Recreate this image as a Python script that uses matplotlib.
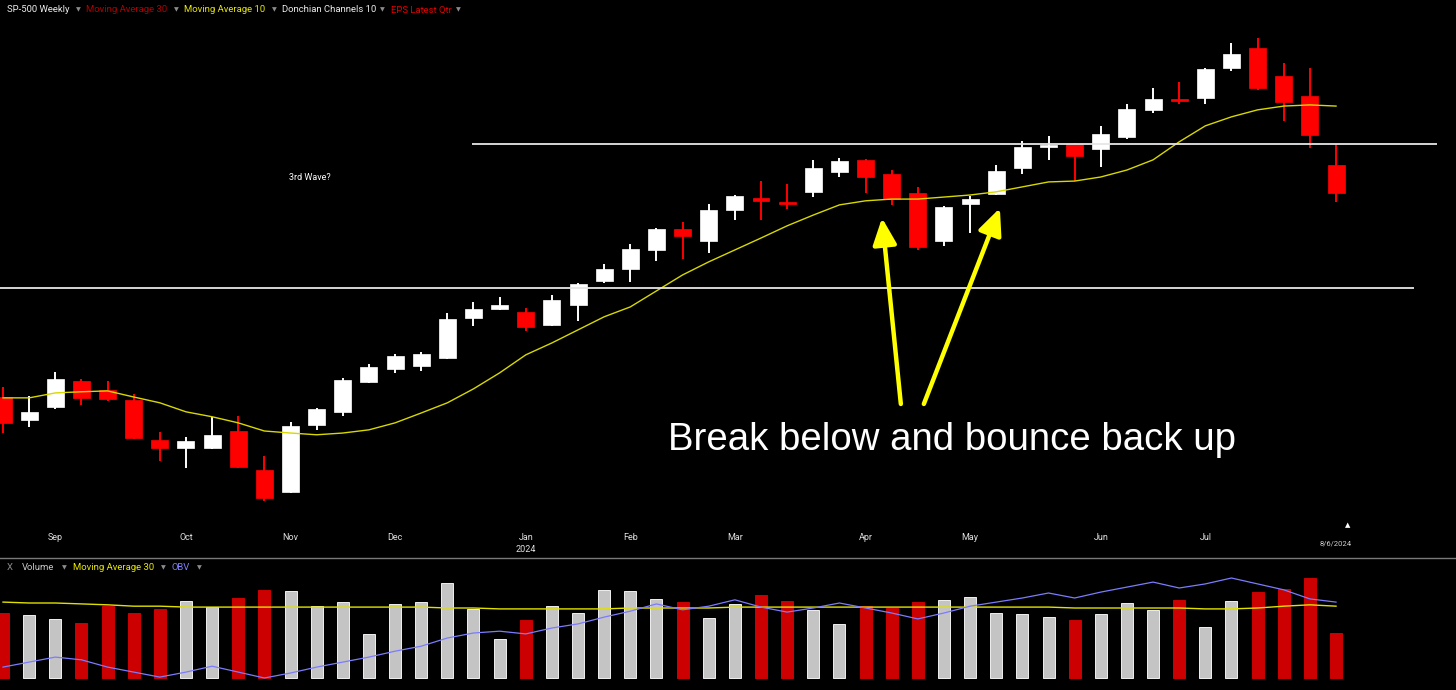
import numpy as np
import pandas as pd
import matplotlib
matplotlib.use('Agg')
import matplotlib.pyplot as plt
from matplotlib.lines import Line2D

# ---------------------------------------------------------------------------
# Weekly SP-500 data
# ---------------------------------------------------------------------------
opens = [4444, 4365, 4410, 4499, 4468, 4434, 4296, 4269, 4269, 4327,
         4193, 4118, 4348, 4393, 4496, 4541, 4551, 4578, 4716, 4747,
         4737, 4692, 4761, 4843, 4885, 4950, 5022, 4981, 5088, 5129,
         5115, 5150, 5218, 5260, 5211, 5146, 4981, 5108, 5143, 5232,
         5304, 5315, 5297, 5339, 5432, 5466, 5473, 5576, 5645, 5549,
         5480, 5242]
highs = [4479, 4448, 4530, 4506, 4499, 4455, 4324, 4307, 4376, 4379,
         4241, 4358, 4406, 4510, 4558, 4592, 4599, 4733, 4771, 4788,
         4750, 4795, 4836, 4902, 4971, 5026, 5046, 5108, 5139, 5187,
         5177, 5260, 5267, 5263, 5225, 5167, 5101, 5136, 5242, 5325,
         5342, 5318, 5377, 5452, 5507, 5528, 5576, 5662, 5679, 5593,
         5576, 5315]
lows = [4320, 4341, 4403, 4417, 4431, 4300, 4224, 4200, 4265, 4200,
        4087, 4114, 4331, 4379, 4492, 4527, 4534, 4575, 4689, 4744,
        4671, 4689, 4706, 4836, 4840, 4912, 4919, 4940, 5053, 5053,
        5091, 5132, 5201, 5146, 5105, 4950, 4964, 5008, 5139, 5211,
        5260, 5187, 5236, 5332, 5421, 5452, 5452, 5566, 5500, 5394,
        5301, 5115]
closes = [4355, 4393, 4506, 4441, 4437, 4303, 4269, 4293, 4314, 4204,
          4097, 4345, 4403, 4503, 4548, 4585, 4592, 4713, 4747, 4761,
          4685, 4778, 4833, 4885, 4953, 5022, 4998, 5088, 5136, 5119,
          5108, 5232, 5256, 5201, 5125, 4960, 5098, 5125, 5222, 5304,
          5308, 5273, 5349, 5435, 5469, 5463, 5573, 5624, 5507, 5459,
          5346, 5146]
ma10 = [4441, 4441, 4458, 4462, 4465, 4444, 4424, 4393, 4376, 4355,
        4327, 4320, 4314, 4320, 4331, 4355, 4389, 4424, 4472, 4527,
        4589, 4630, 4675, 4720, 4754, 4809, 4864, 4909, 4950, 4991,
        5033, 5070, 5105, 5119, 5125, 5125, 5132, 5139, 5150, 5167,
        5184, 5187, 5201, 5225, 5260, 5322, 5377, 5408, 5432, 5445,
        5449, 5445]

# volume panel (billions, OBV in same rough units)
volume = [14.3, 13.9, 13.0, 12.1, 15.8, 14.3, 15.2, 16.9, 15.6, 17.6,
          19.4, 19.1, 15.8, 16.7, 9.7, 16.3, 16.7, 20.9, 15.2, 8.6,
          12.8, 15.8, 14.3, 19.4, 19.1, 17.4, 16.7, 13.2, 16.3, 18.3,
          16.9, 15.0, 11.9, 15.8, 15.4, 16.7, 17.2, 17.8, 14.3, 14.1,
          13.4, 12.8, 14.1, 16.5, 15.0, 17.2, 11.2, 16.9, 18.9, 19.6,
          22.0, 9.9]
vol_ma30 = [16.7, 16.5, 16.5, 16.3, 16.1, 15.8, 15.8, 15.6, 15.6, 15.6,
            15.6, 15.6, 15.6, 15.6, 15.6, 15.6, 15.6, 15.4, 15.4, 15.2,
            15.2, 15.2, 15.2, 15.2, 15.4, 15.4, 15.4, 15.4, 15.6, 15.6,
            15.6, 15.6, 15.6, 15.6, 15.6, 15.6, 15.6, 15.6, 15.6, 15.6,
            15.6, 15.4, 15.4, 15.4, 15.4, 15.4, 15.2, 15.2, 15.4, 15.8,
            16.1, 15.8]
obv = [2.4, 3.5, 4.6, 4.0, 2.4, 1.3, 0.2, 1.3, 2.6, 1.3,
       0.0, 1.1, 2.4, 3.5, 4.6, 5.9, 7.0, 8.8, 9.9, 10.3,
       9.7, 11.0, 11.9, 13.4, 14.7, 16.3, 15.0, 15.8, 17.2, 15.6,
       14.5, 15.4, 16.5, 15.4, 14.3, 13.0, 14.3, 15.8, 16.7, 17.6,
       18.7, 17.6, 18.9, 20.0, 21.1, 19.8, 20.7, 22.0, 20.7, 19.4,
       17.4, 16.7]

resistance = 5315
support = 4819
last_date = '8/6/2024'
note = 'Break below and bounce back up'
wave_note = '3rd Wave?'

# ---------------------------------------------------------------------------
o = np.array(opens, dtype=float)
h = np.array(highs, dtype=float)
l = np.array(lows, dtype=float)
c = np.array(closes, dtype=float)
x = np.arange(len(o))
weeks = pd.date_range('2023-08-18', periods=len(o), freq='W-FRI')
down = c < o

W, H = 1456, 690
fig = plt.figure(figsize=(W / 100, H / 100), dpi=100, facecolor='black')
sep = 558
ax = fig.add_axes([0, 1 - sep / H, 1, sep / H])
axv = fig.add_axes([0, 0, 1, 130 / H])
for a in (ax, axv):
    a.set_facecolor('black')
    a.set_axis_off()
xlim = (-0.115, 55.59)
ax.set_xlim(*xlim)
axv.set_xlim(*xlim)
ax.set_ylim(3890, 5810)
axv.set_ylim(-2.64, 25.96)

# ----------------------------- candles -------------------------------------
body_col = np.where(down, '#ff0000', '#ffffff')
ax.vlines(x, l, h, colors=body_col, lw=1.4, zorder=2)
body_lo = np.minimum(o, c)
body_h = np.maximum(np.abs(c - o), 6)
ax.bar(x, body_h, bottom=body_lo, width=0.65, color=body_col,
       edgecolor=body_col, lw=0.5, zorder=3)
ax.plot(x, ma10, color='#d8d800', lw=1.0, zorder=4)

ax.hlines(resistance, 17.94, 54.86, colors='#e6e6e6', lw=1.3, zorder=5)
ax.hlines(support, -0.2, 54.0, colors='#e6e6e6', lw=1.3, zorder=5)

# arrows + notes
yel = '#ffff00'
for tail, head in [((34.35, 4420), (33.63, 5060)),
                   ((35.23, 4420), (38.14, 5094))]:
    ax.annotate('', xy=head, xytext=tail, zorder=6,
                arrowprops=dict(arrowstyle='-|>,head_width=0.45,head_length=1.0',
                                color=yel, lw=3.2, mutation_scale=16,
                                shrinkA=0, shrinkB=0))
ax.text(36.3, 4296, note, color='white', fontsize=27.6,
        family='Liberation Sans', ha='center', va='center', zorder=7)
ax.text(11.74, 5198, wave_note, color='white', fontsize=6.5,
        family=['Roboto', 'DejaVu Sans'], ha='center', va='center')

# month labels (the last weeks carry the current-date marker instead)
lab_kw = dict(color='#e0e0e0', fontsize=6.5, family=['Roboto', 'DejaVu Sans'],
              ha='center', va='center', transform=ax.get_xaxis_transform())
for i in range(1, len(weeks) - 3):
    if weeks[i].month != weeks[i - 1].month:
        ax.text(i, (sep - 538) / sep, weeks[i].strftime('%b'), **lab_kw)
        if weeks[i].year != weeks[i - 1].year:
            ax.text(i, (sep - 550) / sep, str(weeks[i].year), **lab_kw)
ax.text(x[-1], (sep - 544) / sep, last_date, color='#cfcfcf', fontsize=5.5,
        family=['Roboto', 'DejaVu Sans'], ha='center', va='center',
        transform=ax.get_xaxis_transform())
ax.text(x[-1] + 0.45, (sep - 525) / sep, '\u25b2', color='white', fontsize=5,
        family='DejaVu Sans', ha='center', va='center',
        transform=ax.get_xaxis_transform())

# separator between panels
fig.add_artist(Line2D([0, 1], [1 - sep / H] * 2, color='#7a7a7a', lw=1.0))

# ----------------------------- volume --------------------------------------
vcol = np.where(down, '#cc0000', '#c4c4c4')
vedge = np.where(down, '#cc0000', '#f0f0f0')
axv.bar(x, volume, width=0.46, color=vcol, edgecolor=vedge, lw=0.7, zorder=2)
axv.plot(x, vol_ma30, color='#e0e000', lw=1.0, zorder=3)
axv.plot(x, obv, color='#7b7bff', lw=0.9, zorder=4)


# ----------------------------- headers -------------------------------------
def header(items, ypix):
    for xp, txt, col in items:
        fam = ['Roboto', 'DejaVu Sans']
        size = 6.8
        if txt == '\u25bc':
            fam, size, col = 'DejaVu Sans', 4.5, '#8c8c8c'
        fig.text(xp / W, 1 - ypix / H, txt, color=col, fontsize=size,
                 family=fam, ha='left', va='center')


tri = '\u25bc'
header([(7, 'SP-500 Weekly', '#ececec'), (76, tri, None),
        (86, 'Moving Average 30', '#b00000'), (174, tri, None),
        (184, 'Moving Average 10', '#e8e800'), (272, tri, None),
        (282, 'Donchian Channels 10', '#ececec'), (380, tri, None),
        (391, 'EPS Latest Qtr', '#e00000'), (456, tri, None)], 10)
header([(7, 'X', '#8c8c8c'), (22, 'Volume', '#c8c8c8'), (62, tri, None),
        (73, 'Moving Average 30', '#e8e800'), (161, tri, None),
        (171, 'OBV', '#8080ff'), (197, tri, None)], 568)

fig.savefig('out.png', dpi=100, facecolor='black')
